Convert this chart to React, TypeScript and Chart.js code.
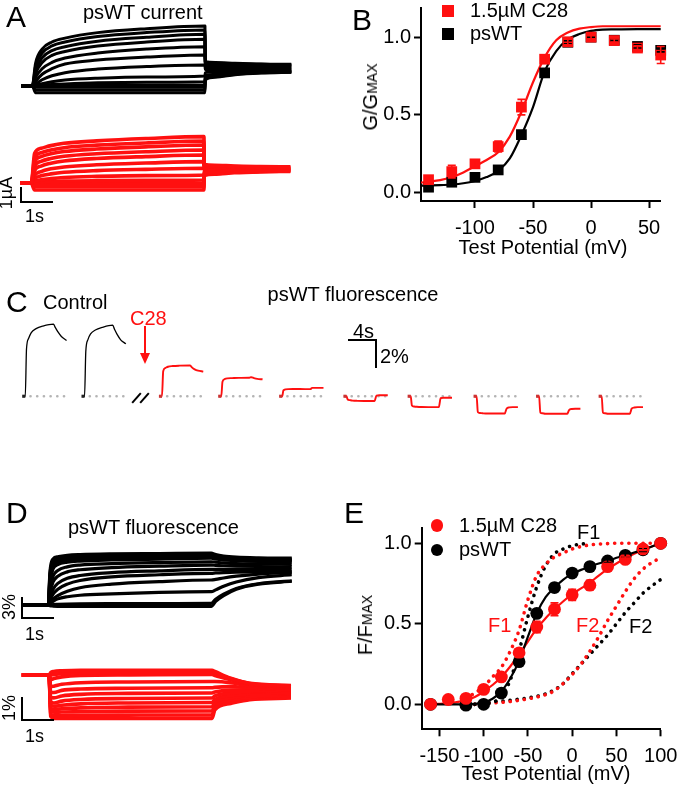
import React, { useEffect, useRef } from 'react';
import { Chart, registerables } from 'chart.js';

Chart.register(...registerables);

const FONT = '"Liberation Sans", Arial, Helvetica, sans-serif';
Chart.defaults.font.family = FONT;
const RED = '#ff1010';
const BLK = '#000000';

// ---------------- Panel A: current traces (s, µA) ----------------
const A_PRE = -0.34;
const A_T_PULSE = [0, 0.1, 0.3, 0.6, 1.0, 2.0, 3.5, 5.28];
const A_T_TAIL = [5.29, 5.6, 6.2, 7.0, 7.92];
const A_BLACK_PULSE = [
  [0, 1.45, 2.35, 2.8, 3.05, 3.4, 3.65, 3.82],
  [0, 1.25, 2.1, 2.55, 2.8, 3.15, 3.4, 3.57],
  [0, 1.0, 1.8, 2.25, 2.5, 2.85, 3.1, 3.29],
  [0, 0.8, 1.5, 1.95, 2.2, 2.55, 2.8, 2.97],
  [0, 0.55, 1.1, 1.5, 1.78, 2.1, 2.35, 2.5],
  [0, 0.3, 0.75, 1.1, 1.4, 1.65, 1.84, 1.97],
  [0, 0.12, 0.4, 0.65, 0.85, 1.08, 1.24, 1.34],
  [0, 0.04, 0.15, 0.27, 0.38, 0.5, 0.58, 0.64],
  [0, 0.01, 0.05, 0.09, 0.13, 0.2, 0.24, 0.27],
  [0, 0.0, 0.01, 0.02, 0.03, 0.04, 0.05, 0.06],
  [0, -0.08, -0.08, -0.08, -0.08, -0.08, -0.08, -0.08],
  [0, -0.25, -0.25, -0.25, -0.25, -0.25, -0.25, -0.25],
  [0, -0.43, -0.43, -0.43, -0.43, -0.43, -0.43, -0.43],
];
const A_BLACK_TAIL = [
  [1.55, 1.5, 1.45, 1.4, 1.38],
  [1.5, 1.45, 1.42, 1.38, 1.35],
  [1.45, 1.4, 1.38, 1.34, 1.32],
  [1.4, 1.36, 1.33, 1.3, 1.28],
  [1.3, 1.28, 1.25, 1.22, 1.2],
  [1.2, 1.18, 1.16, 1.14, 1.13],
  [1.05, 1.05, 1.06, 1.07, 1.08],
  [0.85, 0.9, 0.95, 1.0, 1.02],
  [0.65, 0.75, 0.85, 0.92, 0.96],
  [0.55, 0.68, 0.8, 0.88, 0.92],
  [0.5, 0.64, 0.77, 0.86, 0.9],
  [0.45, 0.6, 0.74, 0.84, 0.88],
  [0.4, 0.56, 0.72, 0.82, 0.87],
];
const A_RED_PULSE = [
  [0, 1.9, 2.23, 2.4, 2.55, 2.7, 2.85, 2.97],
  [0, 1.6, 1.95, 2.12, 2.27, 2.43, 2.57, 2.69],
  [0, 1.35, 1.7, 1.88, 2.02, 2.18, 2.32, 2.44],
  [0, 1.05, 1.4, 1.58, 1.72, 1.88, 2.01, 2.12],
  [0, 0.8, 1.1, 1.28, 1.42, 1.58, 1.7, 1.8],
  [0, 0.5, 0.75, 0.92, 1.04, 1.18, 1.29, 1.38],
  [0, 0.3, 0.48, 0.6, 0.7, 0.81, 0.89, 0.955],
  [0, 0.12, 0.22, 0.3, 0.37, 0.44, 0.49, 0.53],
  [0, 0.04, 0.08, 0.11, 0.14, 0.17, 0.19, 0.21],
  [0, 0, 0, 0, 0, 0, 0, 0],
  [0, -0.22, -0.22, -0.22, -0.22, -0.22, -0.22, -0.22],
  [0, -0.43, -0.43, -0.43, -0.43, -0.43, -0.43, -0.43],
];
const A_RED_TAIL = [
  [1.2, 1.15, 1.1, 1.07, 1.05],
  [1.15, 1.11, 1.07, 1.05, 1.03],
  [1.1, 1.07, 1.04, 1.02, 1.0],
  [1.05, 1.02, 1.0, 0.98, 0.97],
  [1.0, 0.98, 0.96, 0.95, 0.94],
  [0.92, 0.91, 0.9, 0.9, 0.9],
  [0.85, 0.85, 0.86, 0.86, 0.87],
  [0.75, 0.77, 0.8, 0.82, 0.84],
  [0.65, 0.7, 0.75, 0.79, 0.81],
  [0.6, 0.66, 0.72, 0.77, 0.8],
  [0.55, 0.62, 0.7, 0.75, 0.78],
  [0.5, 0.58, 0.67, 0.73, 0.76],
];

// ---------------- Panel B: G/Gmax ----------------
const B_V = [-140, -120, -100, -80, -60, -40, -20, 0, 20, 40, 60];
const B_RED = [0.083, 0.135, 0.185, 0.296, 0.55, 0.858, 0.97, 1.0, 0.978, 0.93, 0.885];
const B_RED_ERR = [0.01, 0.04, 0.02, 0.035, 0.05, 0.02, 0.02, 0.01, 0.01, 0.015, 0.055];
const B_BLACK = [0.035, 0.067, 0.098, 0.146, 0.373, 0.77, 0.967, 1.0, 0.98, 0.94, 0.915];
const B_BLACK_ERR = [0.005, 0.005, 0.005, 0.008, 0.01, 0.01, 0.01, 0.005, 0.005, 0.01, 0.01];
const B_FIT_V = [-146.5, -140, -130, -120, -110, -100, -90, -80, -70, -60, -50, -40, -30, -20, -10, 0, 10, 20, 40, 60];
const B_FIT_RED = [0.065, 0.07, 0.08, 0.1, 0.13, 0.17, 0.21, 0.26, 0.36, 0.52, 0.71, 0.87, 0.98, 1.03, 1.055, 1.065, 1.07, 1.07, 1.07, 1.07];
const B_FIT_BLACK = [0.045, 0.046, 0.048, 0.052, 0.06, 0.075, 0.1, 0.14, 0.22, 0.37, 0.55, 0.78, 0.91, 0.985, 1.02, 1.04, 1.048, 1.05, 1.052, 1.052];
const B_X_TICKS = [-100, -50, 0, 50];
const B_Y_TICKS = [0, 0.5, 1.0];

// ---------------- Panel C: fluorescence time course (s, %) ----------------
const C_T = [0, 0.22, 0.4, 0.7, 1.1, 1.8, 2.8, 4.34, 4.6, 5.0, 5.5, 6.26];
const C_START = [2.89, 11.56, 22.88, 31.55, 40.46, 49.86, 59.25, 68.89, 78.03, 87.18];
const C_IS_CONTROL = [true, true, false, false, false, false, false, false, false, false];
const C_VALS = [
  [0, 0, 3.6, 4.4, 4.85, 5.15, 5.35, 5.5, 5.25, 4.9, 4.55, 4.25],
  [0, 0, 3.4, 4.3, 4.75, 5.05, 5.25, 5.42, 5.1, 4.7, 4.3, 4.0],
  [0, 0, 1.9, 2.15, 2.25, 2.3, 2.33, 2.35, 2.2, 2.05, 1.95, 1.88],
  [0, 0, 1.1, 1.3, 1.36, 1.38, 1.4, 1.41, 1.45, 1.38, 1.32, 1.29],
  [0, 0, 0.45, 0.52, 0.54, 0.55, 0.55, 0.54, 0.64, 0.64, 0.64, 0.64],
  [0, 0, -0.25, -0.3, -0.33, -0.35, -0.36, -0.36, 0.05, 0.07, 0.07, 0.07],
  [0, 0, -0.7, -0.78, -0.8, -0.82, -0.83, -0.83, -0.15, -0.12, -0.12, -0.12],
  [0, 0, -1.2, -1.28, -1.3, -1.32, -1.32, -1.32, -0.95, -0.85, -0.83, -0.83],
  [0, 0, -1.25, -1.3, -1.33, -1.34, -1.34, -1.34, -1.05, -0.97, -0.95, -0.95],
  [0, 0, -1.25, -1.3, -1.33, -1.34, -1.34, -1.34, -0.95, -0.86, -0.83, -0.83],
];

// ---------------- Panel D: fluorescence traces (s, %) ----------------
const D_BLACK_PRE = -0.84;
const D_BLACK_T_PULSE = [0, 0.05, 0.15, 0.3, 0.6, 1.0, 2.0, 3.5, 5.13];
const D_BLACK_T_TAIL = [5.14, 5.28, 5.53, 5.93, 6.63, 7.68];
const D_BLACK_PULSE = [
  [0, 4.5, 6.4, 6.7, 6.9, 7.0, 7.1, 7.15, 7.2],
  [0, 4.2, 6.1, 6.5, 6.7, 6.8, 6.9, 6.95, 7.0],
  [0, 3.8, 5.8, 6.2, 6.45, 6.55, 6.65, 6.72, 6.8],
  [0, 3.4, 5.4, 5.9, 6.2, 6.3, 6.42, 6.52, 6.6],
  [0, 3.0, 5.0, 5.6, 5.95, 6.1, 6.25, 6.38, 6.5],
  [0, 2.2, 4.0, 4.8, 5.3, 5.55, 5.75, 5.9, 6.0],
  [0, 1.6, 3.2, 4.0, 4.6, 4.9, 5.2, 5.4, 5.55],
  [0, 1.0, 2.2, 3.0, 3.7, 4.1, 4.5, 4.75, 4.95],
  [0, 0.6, 1.5, 2.2, 2.9, 3.4, 3.9, 4.2, 4.4],
  [0, 0.3, 0.8, 1.3, 1.9, 2.4, 2.9, 3.25, 3.47],
  [0, 0.2, 0.5, 0.85, 1.15, 1.35, 1.55, 1.75, 1.85],
  [0, 0, 0.05, 0.08, 0.12, 0.15, 0.18, 0.2, 0.22],
  [0, -0.1, -0.15, -0.18, -0.2, -0.2, -0.2, -0.2, -0.2],
];
const D_BLACK_TAIL = [
  [7.2, 7.0, 6.8, 6.65, 6.55, 6.5],
  [7.0, 6.85, 6.65, 6.5, 6.42, 6.38],
  [6.8, 6.65, 6.5, 6.38, 6.3, 6.25],
  [6.6, 6.5, 6.35, 6.25, 6.18, 6.12],
  [6.5, 6.4, 6.25, 6.15, 6.05, 6.0],
  [6.0, 5.95, 5.85, 5.75, 5.7, 5.65],
  [5.55, 5.5, 5.45, 5.4, 5.35, 5.3],
  [4.95, 4.95, 4.95, 4.95, 4.95, 4.95],
  [4.4, 4.45, 4.5, 4.55, 4.6, 4.62],
  [3.47, 3.55, 3.75, 4.0, 4.3, 4.5],
  [1.85, 2.1, 2.6, 3.2, 3.8, 4.2],
  [0.22, 0.8, 1.5, 2.3, 2.95, 3.35],
  [-0.2, 0.5, 1.3, 2.2, 2.9, 3.3],
];
const D_RED_PRE = -0.86;
const D_RED_T_PULSE = [0, 0.05, 0.15, 0.4, 1.0, 2.5, 5.13];
const D_RED_T_TAIL = [5.14, 5.23, 5.73, 6.33, 7.63];
const D_RED_PULSE = [
  [0, 0.1, 0.15, 0.18, 0.2, 0.2, 0.2],
  [0, 0.0, 0.02, 0.06, 0.1, 0.12, 0.12],
  [0, -0.2, -0.15, -0.08, -0.02, 0.0, 0.02],
  [0, -0.5, -0.48, -0.4, -0.33, -0.3, -0.28],
  [0, -0.75, -0.75, -0.66, -0.6, -0.57, -0.55],
  [0, -0.95, -0.98, -0.9, -0.83, -0.79, -0.77],
  [0, -1.15, -1.2, -1.12, -1.05, -1.01, -0.99],
  [0, -1.28, -1.34, -1.3, -1.24, -1.2, -1.18],
  [0, -1.42, -1.48, -1.45, -1.41, -1.38, -1.36],
  [0, -1.55, -1.6, -1.59, -1.57, -1.55, -1.54],
  [0, -1.68, -1.74, -1.74, -1.73, -1.72, -1.71],
  [0, -1.78, -1.86, -1.86, -1.86, -1.86, -1.86],
];
const D_RED_TAIL = [
  [0.2, 0.15, -0.14, -0.36, -0.45],
  [0.12, 0.08, -0.16, -0.37, -0.48],
  [0.02, -0.02, -0.2, -0.4, -0.52],
  [-0.28, -0.28, -0.33, -0.46, -0.57],
  [-0.55, -0.53, -0.5, -0.55, -0.63],
  [-0.77, -0.73, -0.65, -0.65, -0.7],
  [-0.99, -0.9, -0.77, -0.73, -0.76],
  [-1.18, -1.05, -0.88, -0.81, -0.82],
  [-1.36, -1.18, -0.98, -0.88, -0.87],
  [-1.54, -1.3, -1.07, -0.95, -0.92],
  [-1.71, -1.42, -1.15, -1.01, -0.96],
  [-1.86, -1.5, -1.22, -1.06, -0.99],
];

// ---------------- Panel E: F/Fmax ----------------
const E_V = [-160, -140, -120, -100, -80, -60, -40, -20, 0, 20, 40, 60, 80, 100];
const E_RED = [0.0, 0.03, 0.037, 0.093, 0.17, 0.32, 0.48, 0.59, 0.68, 0.74, 0.855, 0.9, 0.965, 1.0];
const E_RED_ERR = [0, 0, 0, 0.01, 0.01, 0.02, 0.035, 0.04, 0.035, 0.03, 0.02, 0.015, 0.01, 0];
const E_BLACK = [0.0, null, -0.005, 0.0, 0.07, 0.265, 0.565, 0.725, 0.815, 0.855, 0.89, 0.925, 0.96, 1.0];
const E_BLACK_ERR = [0, 0, 0, 0, 0.01, 0.015, 0.02, 0.025, 0.015, 0.01, 0.01, 0.01, 0.01, 0];
const E_FIT_V = [-160, -140, -120, -110, -100, -90, -80, -70, -60, -50, -40, -30, -20, -10, 0, 10, 20, 30, 40, 50, 60, 70, 80, 90, 100];
const E_FIT_BLACK = [0, 0, 0, 0.003, 0.012, 0.035, 0.08, 0.16, 0.27, 0.42, 0.565, 0.665, 0.725, 0.775, 0.81, 0.835, 0.855, 0.875, 0.89, 0.91, 0.925, 0.943, 0.96, 0.98, 1.0];
const E_FIT_RED = [0, 0.008, 0.025, 0.045, 0.08, 0.12, 0.17, 0.235, 0.31, 0.39, 0.47, 0.535, 0.59, 0.64, 0.685, 0.72, 0.755, 0.8, 0.84, 0.875, 0.905, 0.935, 0.96, 0.98, 1.0];
const E_F1_RED_V = [-120, -110, -100, -90, -80, -70, -60, -50, -40, -30, -20, -10, 0, 10, 20, 30, 40, 50, 60, 70, 80, 90, 100];
const E_F1_RED = [0.04, 0.07, 0.11, 0.17, 0.23, 0.33, 0.46, 0.65, 0.8, 0.87, 0.915, 0.94, 0.965, 0.98, 0.99, 0.995, 0.998, 1.0, 1.0, 1.0, 1.0, 1.0, 1.0];
const E_F1_BLACK_V = [-110, -100, -90, -80, -70, -60, -50, -40, -30, -20, -10, 0, 10, 20];
const E_F1_BLACK = [0.0, 0.005, 0.012, 0.05, 0.15, 0.33, 0.545, 0.73, 0.86, 0.935, 0.965, 0.985, 0.995, 1.0];
const E_F2_V = [-110, -100, -80, -60, -40, -30, -20, -10, 0, 10, 20, 30, 40, 50, 60, 70, 80, 90, 100];
const E_F2_BLACK = [0.0, 0.01, 0.02, 0.032, 0.05, 0.065, 0.09, 0.13, 0.19, 0.25, 0.31, 0.37, 0.43, 0.5, 0.57, 0.63, 0.69, 0.735, 0.775];
const E_F2_RED = [0.0, 0.005, 0.012, 0.025, 0.045, 0.06, 0.085, 0.13, 0.185, 0.25, 0.33, 0.42, 0.52, 0.61, 0.7, 0.78, 0.84, 0.88, 0.91];
const E_X_TICKS = [-150, -100, -50, 0, 50, 100];
const E_Y_TICKS = [0, 0.5, 1.0];

// ---------------- helpers ----------------
const pts = (xs: number[], ys: (number | null)[]) => xs.map((x, i) => ({ x, y: ys[i] }));

function traceSets(pre: number, tP: number[], pulses: number[][], tT: number[], tails: number[][], color: string, width: number) {
  return pulses.map((vp, i) => ({
    data: [{ x: pre, y: 0 }, ...pts(tP, vp), ...pts(tT, tails[i])],
    showLine: true,
    borderColor: color,
    borderWidth: width,
    pointRadius: 0,
    cubicInterpolationMode: 'monotone',
    clip: false,
    borderJoinStyle: 'round',
  }));
}

function bareConfig(datasets: any[], xmin: number, xmax: number, ymin: number, ymax: number) {
  return {
    type: 'scatter',
    data: { datasets },
    options: {
      animation: false,
      responsive: false,
      events: [],
      layout: { padding: 0 },
      plugins: { legend: { display: false }, tooltip: { enabled: false } },
      scales: {
        x: { type: 'linear', display: false, min: xmin, max: xmax },
        y: { type: 'linear', display: false, min: ymin, max: ymax },
      },
    },
  };
}

const errorBarPlugin = {
  id: 'errbars',
  afterDatasetsDraw(chart: any) {
    const ctx = chart.ctx;
    const xs = chart.scales.x;
    const ys = chart.scales.y;
    chart.data.datasets.forEach((ds: any) => {
      if (!ds.errors) return;
      ds.data.forEach((p: any, j: number) => {
        const e = ds.errors[j];
        if (!e || p.y == null) return;
        const x = xs.getPixelForValue(p.x);
        const y1 = ys.getPixelForValue(p.y - e);
        const y2 = ys.getPixelForValue(p.y + e);
        ctx.save();
        ctx.strokeStyle = ds.backgroundColor;
        ctx.lineWidth = 1.6;
        ctx.beginPath();
        ctx.moveTo(x, y1); ctx.lineTo(x, y2);
        ctx.moveTo(x - 4, y1); ctx.lineTo(x + 4, y1);
        ctx.moveTo(x - 4, y2); ctx.lineTo(x + 4, y2);
        ctx.stroke();
        ctx.restore();
      });
    });
  },
};

function axis(min: number, max: number, ticks: number[], fmt: (v: number) => string, size: number, pad: number) {
  return {
    type: 'linear',
    min,
    max,
    afterBuildTicks: (s: any) => { s.ticks = ticks.map((v) => ({ value: v })); },
    afterFit: (s: any) => {
      if (s.isHorizontal()) s.height = size; else s.width = size;
      s.paddingTop = 0; s.paddingBottom = 0; s.paddingLeft = 0; s.paddingRight = 0;
    },
    ticks: {
      color: '#000',
      font: { family: FONT, size: 20 },
      padding: pad,
      autoSkip: false,
      maxRotation: 0,
      minRotation: 0,
      callback: (v: any) => fmt(Number(v)),
    },
    grid: { display: true, drawOnChartArea: false, drawTicks: true, tickLength: 7, tickWidth: 2, tickColor: '#000' },
    border: { display: true, color: '#000', width: 2 },
  };
}

function plotConfig(datasets: any[], x: any, y: any, padding: any) {
  return {
    type: 'scatter',
    data: { datasets },
    options: {
      animation: false,
      responsive: false,
      events: [],
      layout: { padding },
      plugins: { legend: { display: false }, tooltip: { enabled: false } },
      scales: { x, y },
    },
    plugins: [errorBarPlugin],
  };
}

const fitLine = (xs: number[], ys: number[], color: string, order: number) => ({
  data: pts(xs, ys), showLine: true, borderColor: color, borderWidth: 2.2, pointRadius: 0,
  cubicInterpolationMode: 'monotone', clip: false, order,
});
const dotLine = (xs: number[], ys: number[], color: string, order: number) => ({
  data: pts(xs, ys), showLine: true, borderColor: color, borderWidth: 3.6, pointRadius: 0,
  borderDash: [0.1, 7], borderCapStyle: 'round', cubicInterpolationMode: 'monotone', clip: false, order,
});
const markers = (xs: number[], ys: (number | null)[], errs: number[], color: string, style: string, r: number, order: number) => ({
  data: pts(xs, ys), showLine: false, backgroundColor: color, borderWidth: 0, pointStyle: style,
  pointRadius: r, clip: false, order, errors: errs,
});

function ChartCanvas({ left, top, width, height, make }: any) {
  const ref = useRef<HTMLCanvasElement>(null);
  useEffect(() => {
    const chart = new Chart(ref.current as HTMLCanvasElement, make());
    return () => chart.destroy();
  }, []);
  return <canvas ref={ref} width={width} height={height} style={{ position: 'absolute', left, top, width, height }} />;
}

const Label = ({ x, y, size = 20, color = '#000', center = false, children }: any) => (
  <div style={{ position: 'absolute', left: x, top: y - size / 2, fontSize: size, lineHeight: `${size}px`, color, whiteSpace: 'nowrap', transform: center ? 'translateX(-50%)' : undefined }}>{children}</div>
);
const VLabel = ({ x, y, size = 20, color = '#000', children }: any) => (
  <div style={{ position: 'absolute', left: x, top: y, fontSize: size, lineHeight: `${size}px`, color, whiteSpace: 'nowrap', transform: 'translate(-50%, -50%) rotate(-90deg)' }}>{children}</div>
);
const Bar = ({ x, y, w, h, color = '#000', round = false }: any) => (
  <div style={{ position: 'absolute', left: x, top: y, width: w, height: h, background: color, borderRadius: round ? '50%' : 0 }} />
);
const Slash = ({ x1, y1, x2, y2, w = 1.5 }: any) => {
  const len = Math.hypot(x2 - x1, y2 - y1);
  const ang = (Math.atan2(y2 - y1, x2 - x1) * 180) / Math.PI;
  return <div style={{ position: 'absolute', left: x1, top: y1 - w / 2, width: len, height: w, background: '#000', transformOrigin: `0 ${w / 2}px`, transform: `rotate(${ang}deg)` }} />;
};

// ---------------- charts ----------------
const makeABlack = () => bareConfig(traceSets(A_PRE, A_T_PULSE, A_BLACK_PULSE, A_T_TAIL, A_BLACK_TAIL, BLK, 3.0), -0.988, 8.187, -1.529, 4.522);
const makeARed = () => bareConfig(traceSets(A_PRE, A_T_PULSE, A_RED_PULSE, A_T_TAIL, A_RED_TAIL, RED, 3.6), -0.957, 8.217, -2.019, 4.032);
const makeDBlack = () => bareConfig(traceSets(D_BLACK_PRE, D_BLACK_T_PULSE, D_BLACK_PULSE, D_BLACK_T_TAIL, D_BLACK_TAIL, BLK, 3.2), -1.524, 7.94, -4.17, 11.81);
const makeDRed = () => bareConfig(traceSets(D_RED_PRE, D_RED_T_PULSE, D_RED_PULSE, D_RED_T_TAIL, D_RED_TAIL, RED, 3.6), -1.549, 7.915, -3.004, 1.073);

const makeC = () => {
  const sets: any[] = [];
  C_START.forEach((s) => {
    sets.push({
      data: [{ x: s, y: 0 }, { x: s + C_T[C_T.length - 1], y: 0 }], showLine: true, borderColor: '#b4b4b4',
      borderWidth: 2.6, borderDash: [0.1, 6.6], borderCapStyle: 'round', pointRadius: 0, clip: false, order: 3,
    });
  });
  C_START.forEach((s, i) => {
    sets.push({
      data: C_T.map((t, j) => ({ x: s + t, y: C_VALS[i][j] })), showLine: true,
      borderColor: C_IS_CONTROL[i] ? BLK : RED, borderWidth: C_IS_CONTROL[i] ? 1.3 : 1.9,
      pointRadius: 0, cubicInterpolationMode: 'monotone', clip: false, order: 2,
    });
  });
  sets.push({
    data: C_START.map((s) => ({ x: s, y: 0 })), showLine: false, pointRadius: 2.2, borderWidth: 0,
    backgroundColor: C_START.map((_, i) => (C_IS_CONTROL[i] ? '#222' : '#c33')), pointStyle: 'rect', clip: false, order: 1,
  });
  return bareConfig(sets, 0, 97.83, -1.887, 5.887);
};

const makeB = () => plotConfig(
  [
    fitLine(B_FIT_V, B_FIT_BLACK, BLK, 4),
    fitLine(B_FIT_V, B_FIT_RED, RED, 3),
    markers(B_V, B_BLACK, B_BLACK_ERR, BLK, 'rect', 7.6, 2),
    markers(B_V, B_RED, B_RED_ERR, RED, 'rect', 7.6, 1),
  ],
  axis(-146.5, 60, B_X_TICKS, (v) => String(v), 61, 8),
  axis(-0.054, 1.19, B_Y_TICKS, (v) => v.toFixed(1), 81, 3),
  { left: 0, top: 2, right: 16.3, bottom: 0 },
);

const makeE = () => plotConfig(
  [
    dotLine(E_F2_V, E_F2_BLACK, BLK, 8),
    dotLine(E_F2_V, E_F2_RED, RED, 7),
    dotLine(E_F1_BLACK_V, E_F1_BLACK, BLK, 6),
    dotLine(E_F1_RED_V, E_F1_RED, RED, 5),
    fitLine(E_FIT_V, E_FIT_RED, RED, 4),
    fitLine(E_FIT_V, E_FIT_BLACK, BLK, 3),
    markers(E_V, E_BLACK, E_BLACK_ERR, BLK, 'circle', 6.4, 2),
    markers(E_V, E_RED, E_RED_ERR, RED, 'circle', 6.4, 1),
  ],
  axis(-170, 100, E_X_TICKS, (v) => String(v), 57.7, 8),
  axis(-0.155, 1.095, E_Y_TICKS, (v) => v.toFixed(1), 81.7, 3),
  { left: 0, top: 28, right: 16.3, bottom: 0 },
);

export default function App() {
  return (
    <div style={{ position: 'absolute', left: 0, top: 0, width: 677, height: 787, background: '#fff', fontFamily: FONT, overflow: 'hidden' }}>
      {/* Panel A */}
      <ChartCanvas left={0} top={15} width={300} height={95} make={makeABlack} />
      <ChartCanvas left={0} top={120} width={300} height={95} make={makeARed} />
      <Label x={6} y={17} size={30}>A</Label>
      <Label x={83} y={12}>psWT current</Label>
      <Bar x={19.7} y={186.7} w={2} h={16.6} />
      <Bar x={19.7} y={201.3} w={33.6} h={2} />
      <VLabel x={6} y={193} size={18}>1µA</VLabel>
      <Label x={25} y={216} size={18}>1s</Label>

      {/* Panel B */}
      <ChartCanvas left={340} top={0} width={337} height={262} make={makeB} />
      <Label x={352} y={20} size={30}>B</Label>
      <Bar x={442} y={5} w={12} h={12} color={RED} />
      <Label x={470} y={10}>1.5µM C28</Label>
      <Bar x={442} y={27.5} w={12} h={12} color={BLK} />
      <Label x={470} y={32.5}>psWT</Label>
      <VLabel x={371} y={97}>G/G<span style={{ fontSize: 14 }}>MAX</span></VLabel>
      <Label x={543} y={247} center>Test Potential (mV)</Label>

      {/* Panel C */}
      <ChartCanvas left={0} top={315} width={677} height={110} make={makeC} />
      <Label x={6} y={302} size={30}>C</Label>
      <Label x={43} y={302}>Control</Label>
      <Label x={353} y={294} center>psWT fluorescence</Label>
      <Label x={130} y={317.5} color={RED}>C28</Label>
      <Bar x={143.8} y={326} w={2.4} h={30} color={RED} />
      <div style={{ position: 'absolute', left: 140, top: 353, width: 0, height: 0, borderLeft: '5px solid transparent', borderRight: '5px solid transparent', borderTop: `11px solid ${RED}` }} />
      <Slash x1={131.7} y1={402.7} x2={140} y2={393.3} />
      <Slash x1={140} y1={402.7} x2={148.3} y2={393.3} />
      <Label x={353} y={331}>4s</Label>
      <Bar x={348.3} y={339.3} w={28.5} h={1.5} />
      <Bar x={375.3} y={339.3} w={1.5} h={29} />
      <Label x={380} y={356}>2%</Label>

      {/* Panel D */}
      <ChartCanvas left={0} top={520} width={300} height={115} make={makeDBlack} />
      <ChartCanvas left={0} top={650} width={300} height={95} make={makeDRed} />
      <Label x={6} y={513} size={30}>D</Label>
      <Label x={68} y={527}>psWT fluorescence</Label>
      <Bar x={20.7} y={596.7} w={2} h={22.6} />
      <Bar x={20.7} y={617.3} w={33.6} h={2} />
      <VLabel x={8.8} y={606.7} size={18}>3%</VLabel>
      <Label x={25} y={634} size={18}>1s</Label>
      <Bar x={20.7} y={696.7} w={2} h={24.3} />
      <Bar x={20.7} y={719} w={33.6} h={2} />
      <VLabel x={8.8} y={708} size={18}>1%</VLabel>
      <Label x={25} y={736} size={18}>1s</Label>

      {/* Panel E */}
      <ChartCanvas left={340} top={500} width={337} height={287} make={makeE} />
      <Label x={344} y={512.5} size={30}>E</Label>
      <Bar x={430.7} y={519.2} w={12.7} h={12.7} color={RED} round />
      <Label x={459} y={524.5}>1.5µM C28</Label>
      <Bar x={430.7} y={543.7} w={12.7} h={12.7} color={BLK} round />
      <Label x={459} y={549}>psWT</Label>
      <Label x={577} y={532}>F1</Label>
      <Label x={488} y={625} color={RED}>F1</Label>
      <Label x={576} y={625} color={RED}>F2</Label>
      <Label x={629} y={626}>F2</Label>
      <VLabel x={366} y={625}>F/F<span style={{ fontSize: 14 }}>MAX</span></VLabel>
      <Label x={546} y={773} center>Test Potential (mV)</Label>
    </div>
  );
}
